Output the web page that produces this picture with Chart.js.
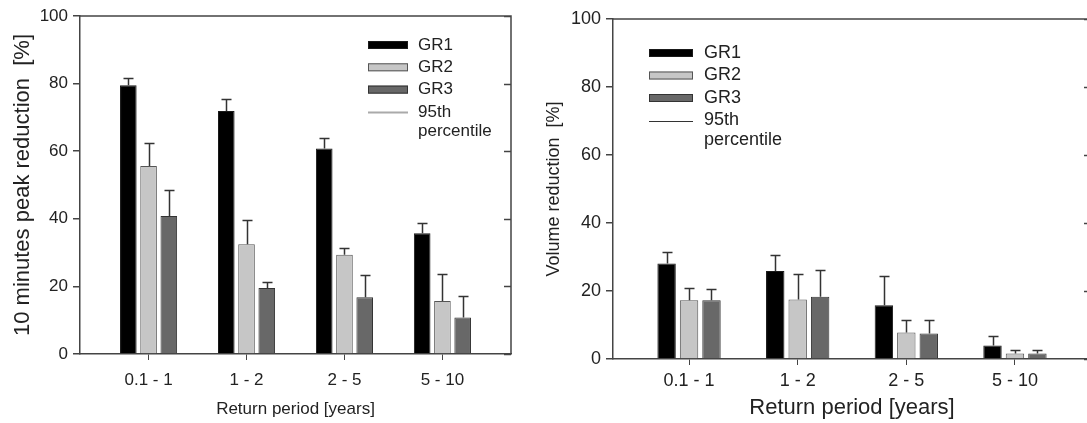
<!DOCTYPE html>
<html>
<head>
<meta charset="utf-8">
<script src="https://cdn.jsdelivr.net/npm/chart.js@4.4.1/dist/chart.umd.min.js"></script>
<style>
  html, body { margin: 0; padding: 0; background: #fff; overflow: hidden; width: 1087px; height: 423px; }
  #peakChart { position: absolute; left: 0; top: 0; }
  #volumeChart { position: absolute; left: 540px; top: 0; }
</style>
</head>
<body>
<canvas id="peakChart" width="540" height="423"></canvas>
<canvas id="volumeChart" width="560" height="423"></canvas>
<script>
const categories = ["0.1 - 1", "1 - 2", "2 - 5", "5 - 10"];
const seriesNames = ["GR1", "GR2", "GR3"];
const yTicks = [0, 20, 40, 60, 80, 100];

// 10 minutes peak reduction [%]
const peakGR1 = [79.5, 71.9, 60.8, 35.7];
const peakGR2 = [55.6, 32.5, 29.4, 15.7];
const peakGR3 = [40.8, 19.5, 16.8, 10.8];
// 95th percentile
const peakGR1p95 = [81.8, 75.4, 63.8, 38.8];
const peakGR2p95 = [62.3, 39.5, 31.3, 23.7];
const peakGR3p95 = [48.5, 21.4, 23.3, 17.2];

// Volume reduction [%]
const volGR1 = [28.1, 25.9, 15.8, 4.0];
const volGR2 = [17.3, 17.5, 7.8, 1.6];
const volGR3 = [17.3, 18.3, 7.5, 1.6];
// 95th percentile
const volGR1p95 = [31.4, 30.6, 24.4, 6.7];
const volGR2p95 = [21.0, 24.9, 11.4, 2.6];
const volGR3p95 = [20.6, 26.1, 11.4, 2.6];

const fills = ["#000000", "#c6c6c6", "#686868"];
const borders = ["#1a1a1a", "#555555", "#333333"];
const FONT = "Arial, 'Liberation Sans', sans-serif";
const AXIS = "#444";
const TEXT = "#222";

const errorBars = {
  id: "errorBars",
  afterDatasetsDraw(chart, args, opts) {
    const ctx = chart.ctx;
    const y = chart.scales.y;
    ctx.save();
    ctx.strokeStyle = opts.color;
    ctx.lineWidth = opts.width;
    chart.data.datasets.forEach((ds, i) => {
      chart.getDatasetMeta(i).data.forEach((bar, j) => {
        const top = Math.round(y.getPixelForValue(ds.p95[j])) + 0.5;
        const x = Math.round(bar.x) + 0.5;
        ctx.beginPath();
        ctx.moveTo(x, bar.y);
        ctx.lineTo(x, top);
        ctx.moveTo(x - opts.cap / 2, top);
        ctx.lineTo(x + opts.cap / 2, top);
        ctx.stroke();
      });
    });
    ctx.restore();
  }
};

// top line and right line with inward ticks
const frame = {
  id: "frame",
  afterDraw(chart, args, opts) {
    const { ctx, chartArea } = chart;
    const y = chart.scales.y;
    ctx.save();
    ctx.strokeStyle = AXIS;
    ctx.lineWidth = 1.5;
    ctx.beginPath();
    ctx.moveTo(chartArea.left, chartArea.top);
    ctx.lineTo(chartArea.right, chartArea.top);
    ctx.lineTo(chartArea.right, chartArea.bottom);
    yTicks.forEach(t => {
      const py = Math.round(y.getPixelForValue(t)) + 0.5;
      ctx.moveTo(chartArea.right, py);
      ctx.lineTo(chartArea.right - 7, py);
    });
    ctx.stroke();
    ctx.restore();
  }
};

const boxLegend = {
  id: "boxLegend",
  afterDraw(chart, args, opts) {
    const { ctx, chartArea } = chart;
    const x0 = chartArea.left + opts.x;
    const y0 = chartArea.top + opts.y;
    ctx.save();
    ctx.font = opts.size + "px " + FONT;
    ctx.textBaseline = "middle";
    ctx.fillStyle = TEXT;
    seriesNames.forEach((name, i) => {
      const cy = y0 + i * opts.step;
      ctx.fillStyle = fills[i];
      ctx.fillRect(x0, cy - 4, opts.w, 8);
      ctx.strokeStyle = borders[i];
      ctx.lineWidth = 1;
      ctx.strokeRect(x0 + 0.5, cy - 3.5, opts.w - 1, 7);
      ctx.fillStyle = TEXT;
      ctx.fillText(name, x0 + opts.gap, cy);
    });
    const ly = y0 + 3 * opts.step;
    ctx.strokeStyle = opts.lineColor;
    ctx.lineWidth = opts.lineWidth;
    ctx.beginPath();
    ctx.moveTo(x0, Math.round(ly) + 0.5);
    ctx.lineTo(x0 + opts.w, Math.round(ly) + 0.5);
    ctx.stroke();
    ctx.fillStyle = TEXT;
    ctx.fillText("95th", x0 + opts.gap, ly);
    ctx.fillText("percentile", x0 + opts.gap, ly + opts.step * 0.88);
    ctx.restore();
  }
};

function makeDatasets(values, p95) {
  return seriesNames.map((name, i) => ({
    label: name,
    data: values[i].map((v, j) => ({ x: j, y: v })),
    p95: p95[i],
    backgroundColor: fills[i],
    borderColor: borders[i],
    borderWidth: 1,
    categoryPercentage: 0.62,
    barPercentage: 0.82
  }));
}

function makeChart(id, cfg) {
  return new Chart(document.getElementById(id), {
    type: "bar",
    data: { datasets: makeDatasets(cfg.values, cfg.p95) },
    options: {
      responsive: false,
      animation: false,
      layout: { padding: cfg.padding },
      plugins: {
        legend: { display: false },
        tooltip: { enabled: false },
        errorBars: { color: "#333", width: 1.5, cap: 10 },
        boxLegend: cfg.legend
      },
      scales: {
        x: {
          type: "linear",
          min: -0.7,
          max: 3.7,
          offset: false,
          afterBuildTicks: s => { s.ticks = categories.map((c, i) => ({ value: i })); },
          afterFit: s => { s.height = cfg.xHeight; },
          grid: { display: true, drawOnChartArea: false, offset: false, tickLength: 6, color: AXIS, lineWidth: 1 },
          border: { display: true, color: AXIS, width: 1.5 },
          ticks: {
            autoSkip: false,
            maxRotation: 0,
            padding: cfg.xTickPad,
            color: TEXT,
            font: { family: FONT, size: cfg.tickSize },
            callback: v => categories[v]
          },
          title: {
            display: true,
            text: "Return period [years]",
            color: TEXT,
            font: { family: FONT, size: cfg.xTitleSize },
            padding: { top: 0, bottom: cfg.xTitlePad }
          }
        },
        y: {
          min: 0,
          max: 100,
          afterBuildTicks: s => { s.ticks = yTicks.map(v => ({ value: v })); },
          afterFit: s => { s.width = cfg.yWidth; },
          grid: { display: true, drawOnChartArea: false, tickLength: 7, color: AXIS, lineWidth: 1.5 },
          border: { display: true, color: AXIS, width: 1.5 },
          ticks: {
            padding: 5,
            color: TEXT,
            font: { family: FONT, size: cfg.tickSize }
          },
          title: {
            display: true,
            text: cfg.yTitle,
            color: TEXT,
            font: { family: FONT, size: cfg.yTitleSize },
            padding: { top: cfg.yTitlePad, bottom: 0 }
          }
        }
      }
    },
    plugins: [errorBars, frame, boxLegend]
  });
}

makeChart("peakChart", {
  values: [peakGR1, peakGR2, peakGR3],
  p95: [peakGR1p95, peakGR2p95, peakGR3p95],
  padding: { left: 0, right: 29, top: 16, bottom: 0 },
  xHeight: 69,
  yWidth: 80,
  tickSize: 17,
  xTickPad: 10,
  xTitleSize: 17,
  xTitlePad: 3,
  yTitle: "10 minutes peak reduction  [%]",
  yTitleSize: 22,
  yTitlePad: 10,
  legend: { x: 288, y: 29, step: 22.3, w: 40, gap: 50, size: 17, lineColor: "#aaaaaa", lineWidth: 2 }
});

makeChart("volumeChart", {
  values: [volGR1, volGR2, volGR3],
  p95: [volGR1p95, volGR2p95, volGR3p95],
  padding: { left: 0, right: 9, top: 19, bottom: 0 },
  xHeight: 64,
  yWidth: 73,
  tickSize: 18,
  xTickPad: 5,
  xTitleSize: 22,
  xTitlePad: 2,
  yTitle: "Volume reduction  [%]",
  yTitleSize: 18,
  yTitlePad: 3,
  legend: { x: 36, y: 34, step: 22.5, w: 44, gap: 55, size: 18, lineColor: "#333333", lineWidth: 1 }
});
</script>
</body>
</html>
